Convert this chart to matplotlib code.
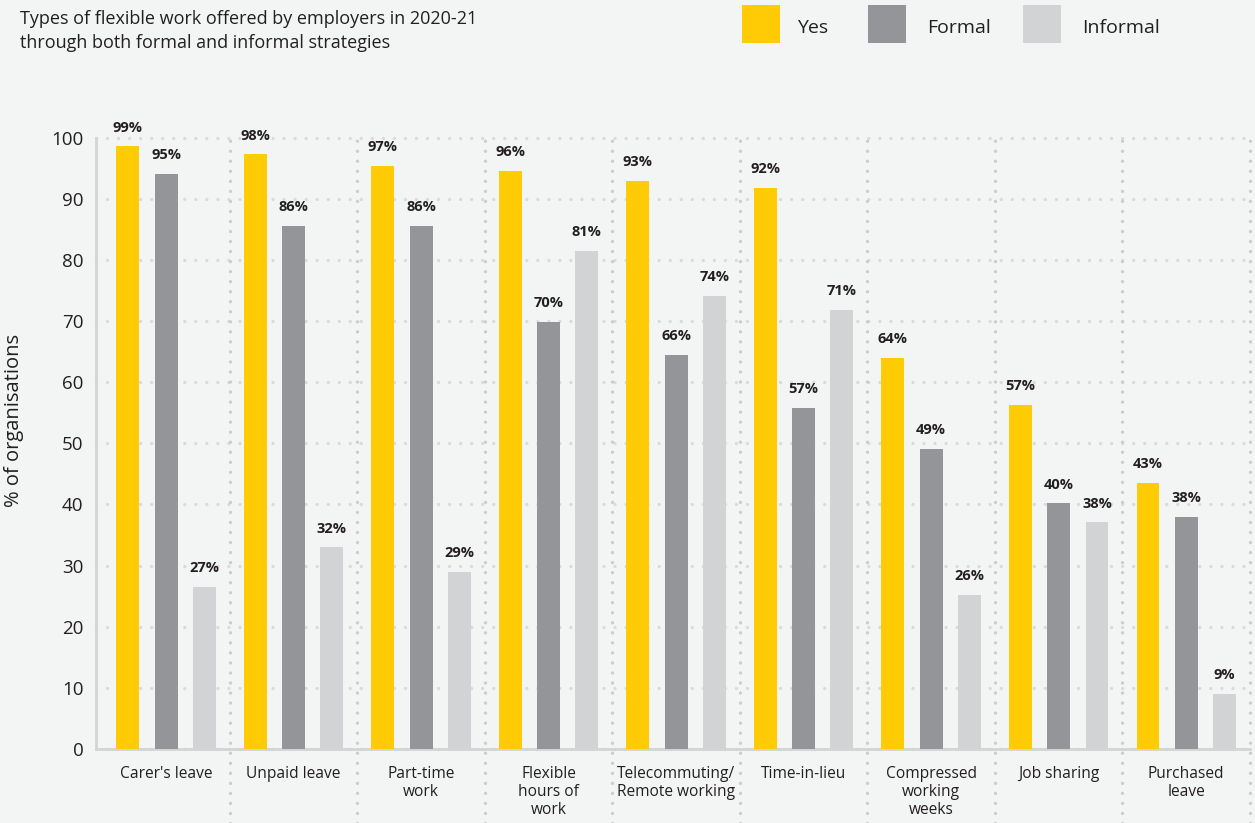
import matplotlib
matplotlib.use("Agg")
import matplotlib.pyplot as plt
import numpy as np
from matplotlib.patches import Rectangle

categories = ["Carer's leave", "Unpaid leave", "Part-time\nwork", "Flexible\nhours of\nwork",
              "Telecommuting/\nRemote working", "Time-in-lieu", "Compressed\nworking\nweeks",
              "Job sharing", "Purchased\nleave"]
series = ["Yes", "Formal", "Informal"]
yes_vals = [98.6, 97.3, 95.4, 94.6, 92.9, 91.8, 64.0, 56.3, 43.5]
formal_vals = [94.1, 85.6, 85.6, 69.9, 64.5, 55.8, 49.1, 40.2, 38.0]
informal_vals = [26.5, 33.0, 29.0, 81.5, 74.1, 71.8, 25.2, 37.1, 9.0]
yes_labels = [99, 98, 97, 96, 93, 92, 64, 57, 43]
formal_labels = [95, 86, 86, 70, 66, 57, 49, 40, 38]
informal_labels = [27, 32, 29, 81, 74, 71, 26, 38, 9]
yticks = [0, 10, 20, 30, 40, 50, 60, 70, 80, 90, 100]

colors = ["#FFCB05", "#939598", "#D1D3D4"]
bg = "#F3F5F4"
txt = "#231F20"
gridc = "#D9DBDB"
vgridc = "#CBCDCD"
FONT = ["Open Sans", "DejaVu Sans"]
plt.rcParams['font.family'] = FONT

W, H = 1255, 823
fig = plt.figure(figsize=(W / 100, H / 100), dpi=100, facecolor=bg)
left, right = 96 / W, 1250 / W
bottom, top = (H - 749) / H, (H - 137.7) / H
ax = fig.add_axes([left, bottom, right - left, top - bottom], facecolor=bg)
ppu = (749 - 137.7) / 100.0

x = np.arange(len(categories))
offset = 0.3
width = 0.18
vals = [yes_vals, formal_vals, informal_vals]
labs = [yes_labels, formal_labels, informal_labels]

# gridlines
for yt in yticks:
    ax.plot([-0.55, 8.5], [yt, yt], color=gridc, lw=2.4, linestyle=(0, (0.01, 3.3)),
            dash_capstyle='round', zorder=0, clip_on=False)
# group separators
for i in range(len(categories)):
    xs = i + 0.5
    ax.plot([xs, xs], [-(823 - 749) / ppu, 100], color=vgridc, lw=2.4,
            linestyle=(0, (0.01, 3.0)), dash_capstyle='round', zorder=0, clip_on=False)

for k in range(3):
    pos = x + (k - 1) * offset
    ax.bar(pos, vals[k], width=width, color=colors[k], zorder=3, linewidth=0)
    for p, v, l in zip(pos, vals[k], labs[k]):
        ax.text(p, v + 1.9, f"{l}%", ha='center', va='bottom', fontsize=10.5,
                fontweight='bold', color=txt, zorder=4)

ax.set_xlim(-0.55, 8.5)
ax.set_ylim(0, 100)
ax.set_yticks(yticks)
ax.set_yticklabels([str(t) for t in yticks], fontsize=13.5, color=txt)
ax.set_xticks(x)
ax.set_xticklabels(categories, fontsize=11.2, color=txt, linespacing=1.18, va='top')
ax.tick_params(axis='both', length=0)
ax.tick_params(axis='y', pad=9)
ax.tick_params(axis='x', pad=12)
for s in ['top', 'right']:
    ax.spines[s].set_visible(False)
for s in ['left', 'bottom']:
    ax.spines[s].set_color("#D3D5D5")
    ax.spines[s].set_linewidth(2)

fig.text(14 / W, 1 - 420 / H, "% of organisations", rotation=90, ha='center', va='center',
         fontsize=14.5, color=txt)

# title
fig.text(20 / W, 1 - 10 / H,
         "Types of flexible work offered by employers in 2020-21\nthrough both formal and informal strategies",
         ha='left', va='top', fontsize=13, color=txt, linespacing=1.4)

# legend
leg_x = [742, 868, 1023]
txt_x = [797, 927, 1082]
for k in range(3):
    fig.patches.append(Rectangle((leg_x[k] / W, 1 - 43 / H), 38 / W, 38 / H,
                                 transform=fig.transFigure, facecolor=colors[k],
                                 edgecolor='none'))
    fig.text(txt_x[k] / W, 1 - 28 / H, series[k], ha='left', va='center',
             fontsize=14, color=txt)

fig.savefig("out.png", dpi=100, facecolor=bg)
